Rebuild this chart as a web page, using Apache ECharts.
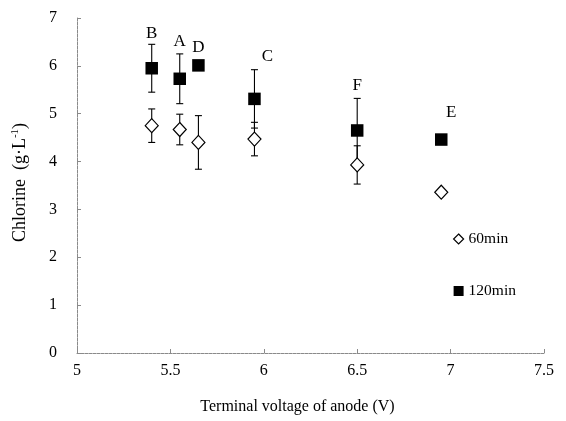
<!DOCTYPE html>
<html>
<head>
<meta charset="utf-8">
<script src="https://cdn.jsdelivr.net/npm/echarts@6/dist/echarts.min.js"></script>
<style>html,body{margin:0;padding:0;background:#fff;}#c{width:566px;height:421px;}</style>
</head>
<body>
<div id="c"></div>
<script>
const voltages = [5.40, 5.55, 5.65, 5.95, 6.50, 6.95];
const pointLabels = ['B', 'A', 'D', 'C', 'F', 'E'];
const chlorine60 = [4.75, 4.67, 4.40, 4.47, 3.93, 3.36];
const err60 = [0.35, 0.32, 0.56, 0.35, 0.40, 0];
const chlorine120 = [5.95, 5.73, 6.01, 5.31, 4.65, 4.46];
const err120 = [0.50, 0.52, 0, 0.61, 0.67, 0];
const xTicks = [5, 5.5, 6, 6.5, 7, 7.5];
const yTicks = [0, 1, 2, 3, 4, 5, 6, 7];

const labelOffsets = [[0, -35], [0, -37], [0, -18], [13, -42], [0, -45], [10, -27]];
const FONT = 'Liberation Serif';

function errData(vals, errs) {
  const out = [];
  vals.forEach((v, i) => { if (errs[i] > 0) out.push([voltages[i], v - errs[i], v + errs[i]]); });
  return out;
}
function renderErr(params, api) {
  const x = api.value(0);
  const lo = api.coord([x, api.value(1)]);
  const hi = api.coord([x, api.value(2)]);
  const w = 3.5;
  const st = { stroke: '#000', lineWidth: 1.1 };
  return {
    type: 'group',
    children: [
      { type: 'line', shape: { x1: lo[0], y1: lo[1], x2: hi[0], y2: hi[1] }, style: st },
      { type: 'line', shape: { x1: lo[0] - w, y1: lo[1], x2: lo[0] + w, y2: lo[1] }, style: st },
      { type: 'line', shape: { x1: hi[0] - w, y1: hi[1], x2: hi[0] + w, y2: hi[1] }, style: st }
    ]
  };
}

const chart = echarts.init(document.getElementById('c'), null, { renderer: 'canvas' });
const axisLine = { show: true, lineStyle: { color: '#8a8a8a', width: 1, type: [3, 1] } };
chart.setOption({
  animation: false,
  backgroundColor: '#fff',
  textStyle: { fontFamily: FONT, color: '#000' },
  grid: { left: 77, right: 22, top: 18, bottom: 68 },
  legend: {
    orient: 'vertical',
    left: 448,
    top: 226,
    itemWidth: 10,
    itemHeight: 10,
    itemGap: 36,
    textStyle: { fontFamily: FONT, fontSize: 15.5, color: '#000' },
    data: [
      { name: '60min', icon: 'diamond', itemStyle: { color: '#fff', borderColor: '#000', borderWidth: 1.2 } },
      { name: '120min', icon: 'rect', itemStyle: { color: '#000' } }
    ]
  },
  xAxis: {
    type: 'value',
    min: xTicks[0],
    max: xTicks[xTicks.length - 1],
    interval: 0.5,
    axisLine: axisLine,
    axisTick: { show: true, inside: true, length: 4, lineStyle: { color: '#8a8a8a' } },
    splitLine: { show: false },
    axisLabel: { fontFamily: FONT, fontSize: 16, color: '#000', margin: 10 },
    name: 'Terminal voltage of anode (V)',
    nameLocation: 'middle',
    nameGap: 46,
    nameTextStyle: { fontFamily: FONT, fontSize: 16, color: '#000', padding: [0, 26, 0, 0] }
  },
  yAxis: {
    type: 'value',
    min: yTicks[0],
    max: yTicks[yTicks.length - 1],
    interval: 1,
    axisLine: axisLine,
    axisTick: { show: true, inside: true, length: 4, lineStyle: { color: '#8a8a8a' } },
    splitLine: { show: false },
    axisLabel: { fontFamily: FONT, fontSize: 16, color: '#000', margin: 20 },
    name: 'Chlorine  (g·L{sup|-1})',
    nameLocation: 'middle',
    nameGap: 47,
    nameTextStyle: {
      fontFamily: FONT, fontSize: 18, color: '#000', padding: [0, 0, 0, 6],
      rich: { sup: { fontFamily: FONT, fontSize: 11, verticalAlign: 'top', padding: [0, 0, 9, 0] } }
    }
  },
  series: [
    {
      name: 'err60', type: 'custom', renderItem: renderErr, z: 1,
      data: errData(chlorine60, err60), silent: true
    },
    {
      name: 'err120', type: 'custom', renderItem: renderErr, z: 1,
      data: errData(chlorine120, err120), silent: true
    },
    {
      name: '60min', type: 'scatter', symbol: 'diamond', symbolSize: [13, 14], z: 3,
      itemStyle: { color: '#fff', borderColor: '#000', borderWidth: 1.2, opacity: 1 },
      data: voltages.map((v, i) => [v, chlorine60[i]])
    },
    {
      name: '120min', type: 'scatter', symbol: 'rect', symbolSize: 12.5, z: 3,
      itemStyle: { color: '#000', opacity: 1 },
      data: voltages.map((v, i) => ({
        value: [v, chlorine120[i]],
        label: {
          show: true, formatter: pointLabels[i], position: 'inside', offset: labelOffsets[i],
          fontFamily: FONT, fontSize: 17, color: '#000'
        }
      }))
    }
  ]
});
</script>
</body>
</html>
